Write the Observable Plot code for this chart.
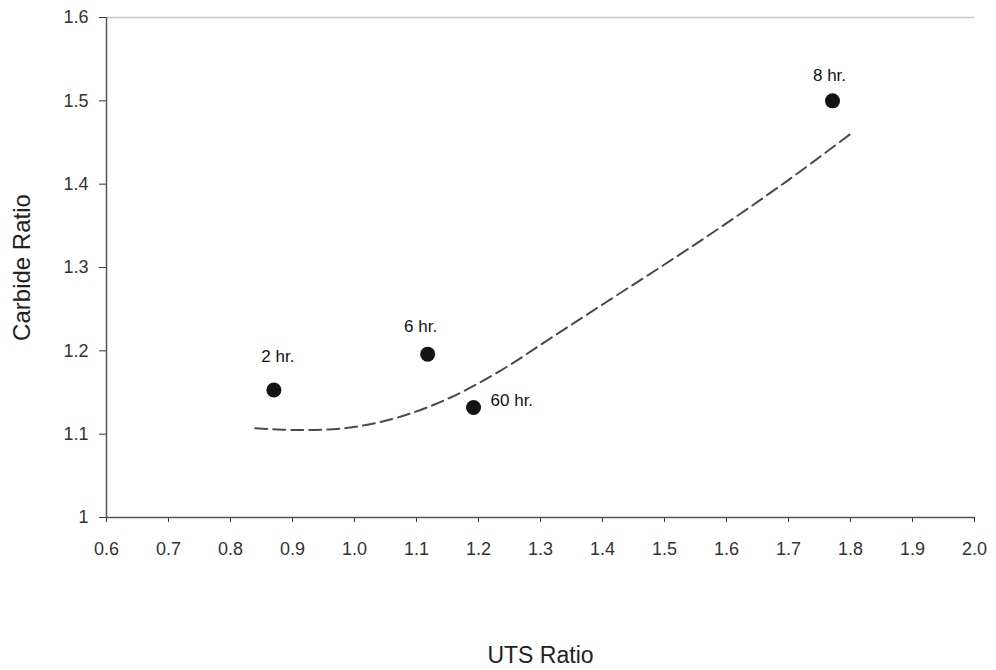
<!DOCTYPE html>
<html>
<head>
<meta charset="utf-8">
<script src="https://cdn.jsdelivr.net/npm/d3@7"></script>
<script src="https://cdn.jsdelivr.net/npm/@observablehq/plot@0.6"></script>
<style>
  html, body { margin: 0; padding: 0; background: #fff; }
  #chart { width: 996px; height: 670px; }
</style>
</head>
<body>
<div id="chart"></div>
<script>
// Measured points
const labels = ["2 hr.", "6 hr.", "60 hr.", "8 hr."];
const utsRatio = [0.87, 1.118, 1.192, 1.771];
const carbideRatio = [1.153, 1.196, 1.132, 1.5];

// Trend line (dashed)
const trendX = [0.84, 0.913, 0.994, 1.074, 1.155, 1.235, 1.316, 1.405, 1.558, 1.698, 1.803];
const trendY = [1.107, 1.105, 1.108, 1.121, 1.144, 1.176, 1.215, 1.258, 1.332, 1.404, 1.462];

// Ticks
const xTicks = [0.6, 0.7, 0.8, 0.9, 1.0, 1.1, 1.2, 1.3, 1.4, 1.5, 1.6, 1.7, 1.8, 1.9, 2.0];
const yTicks = [1, 1.1, 1.2, 1.3, 1.4, 1.5, 1.6];

const points = labels.map((l, i) => ({label: l, x: utsRatio[i], y: carbideRatio[i]}));
const trend = trendX.map((x, i) => ({x, y: trendY[i]}));

// label offsets (layout, not data)
const offsets = {
  "2 hr.": {dx: 4, dy: -33, anchor: "middle"},
  "6 hr.": {dx: -7, dy: -28, anchor: "middle"},
  "60 hr.": {dx: 17, dy: -7, anchor: "start"},
  "8 hr.": {dx: -3, dy: -25, anchor: "middle"}
};

const chart = Plot.plot({
  width: 996,
  height: 670,
  marginLeft: 106,
  marginRight: 22,
  marginTop: 17,
  marginBottom: 153,
  style: {fontFamily: "'Liberation Sans', Arial, sans-serif", fontSize: "18px", color: "#333", background: "#fff"},
  x: {domain: [0.6, 2.0], ticks: xTicks, tickFormat: d => d.toFixed(1), tickSize: 5, tickPadding: 20, label: null},
  y: {domain: [1, 1.6], ticks: yTicks, tickFormat: d => d === 1 ? "1" : d.toFixed(1), tickSize: 7, tickPadding: 11, label: null},
  marks: [
    Plot.ruleY([1.6], {stroke: "#c8c8c8", strokeWidth: 1.5}),
    Plot.ruleY([1], {stroke: "#555", strokeWidth: 1.5}),
    Plot.ruleX([0.6], {stroke: "#555", strokeWidth: 1.5}),
    Plot.line(trend, {x: "x", y: "y", curve: "catmull-rom", stroke: "#4a4a4a", strokeWidth: 2, strokeDasharray: "12,6"}),
    Plot.dot(points, {x: "x", y: "y", r: 7.5, fill: "#141414", stroke: "none"}),
    ...labels.map(l => Plot.text(points.filter(p => p.label === l), {
      x: "x", y: "y", text: "label", dx: offsets[l].dx, dy: offsets[l].dy,
      textAnchor: offsets[l].anchor, fontSize: 17, fill: "#111"
    })),
    Plot.text(["UTS Ratio"], {frameAnchor: "bottom", dy: 138, textAnchor: "middle", lineAnchor: "middle", fontSize: 23, fill: "#222"}),
    Plot.text(["Carbide Ratio"], {frameAnchor: "left", dx: -84, rotate: -90, textAnchor: "middle", lineAnchor: "middle", fontSize: 24, fill: "#222"})
  ]
});
document.getElementById("chart").appendChild(chart);
</script>
</body>
</html>
